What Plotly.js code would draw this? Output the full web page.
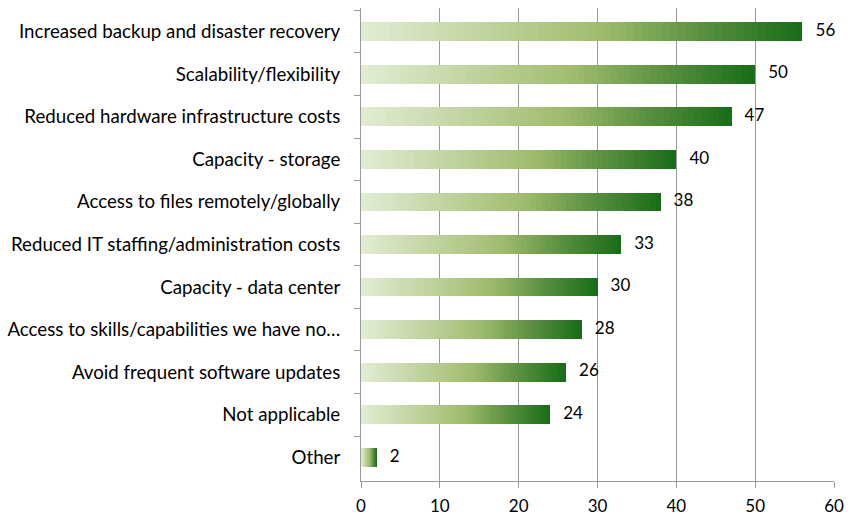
<!DOCTYPE html>
<html><head><meta charset="utf-8">
<script src="https://cdn.plot.ly/plotly-3.0.1.min.js"></script>
<style>html,body{margin:0;padding:0;background:#fff}</style>
</head><body>
<div id="chart" style="width:856px;height:516px"></div>
<script>
var categories = [
  "Increased backup and disaster recovery",
  "Scalability/flexibility",
  "Reduced hardware infrastructure costs",
  "Capacity - storage",
  "Access to files remotely/globally",
  "Reduced IT staffing/administration costs",
  "Capacity - data center",
  "Access to skills/capabilities we have no\u2026",
  "Avoid frequent software updates",
  "Not applicable",
  "Other"
];
var values = [56, 50, 47, 40, 38, 33, 30, 28, 26, 24, 2];
var xTicks = [0, 10, 20, 30, 40, 50, 60];

// gradient stops (light -> dark green)
var stops = [
  [0.00, [226, 237, 212]],
  [0.30, [190, 210, 155]],
  [0.55, [158, 187, 108]],
  [0.75, [95, 148, 68]],
  [1.00, [24, 108, 24]]
];
function gradColor(t) {
  for (var i = 1; i < stops.length; i++) {
    if (t <= stops[i][0]) {
      var a = stops[i - 1], b = stops[i];
      var f = (t - a[0]) / (b[0] - a[0]);
      var c = a[1].map(function (v, k) { return Math.round(v + (b[1][k] - v) * f); });
      return "rgb(" + c.join(",") + ")";
    }
  }
  return "rgb(" + stops[stops.length - 1][1].join(",") + ")";
}

var N = 60;
var traces = [];
for (var s = 0; s < N; s++) {
  traces.push({
    type: "bar",
    orientation: "h",
    y: categories,
    x: values.map(function (v) { return v / N; }),
    marker: { color: gradColor((s + 0.5) / N), line: { width: 0 } },
    hoverinfo: "skip",
    showlegend: false
  });
}
traces.push({
  type: "scatter",
  mode: "text",
  y: categories,
  x: values,
  text: values.map(function (v) { return "   " + v; }),
  textposition: "middle right",
  textfont: { family: "Lato, 'Open Sans', sans-serif", size: 17, color: "#000" },
  hoverinfo: "skip",
  showlegend: false,
  cliponaxis: false
});

var layout = {
  width: 856, height: 516,
  margin: { l: 361, r: 22, t: 8, b: 35 },
  paper_bgcolor: "#fff", plot_bgcolor: "#fff",
  barmode: "stack",
  bargap: 0.56,
  font: { family: "Lato, 'Open Sans', sans-serif", size: 16, color: "#000" },
  xaxis: {
    range: [0, 60],
    tickvals: xTicks,
    ticktext: xTicks.map(String),
    showgrid: true, gridcolor: "#9a9a9a", gridwidth: 1,
    zeroline: false,
    showline: true, linecolor: "#9a9a9a", linewidth: 1,
    ticks: "outside", ticklen: 6, tickcolor: "#9a9a9a",
    ticklabelstandoff: 4,
    tickfont: { size: 17 },
    fixedrange: true
  },
  yaxis: {
    autorange: "reversed",
    showgrid: false,
    showline: true, linecolor: "#9a9a9a", linewidth: 1,
    ticks: "outside", ticklen: 6, tickcolor: "#9a9a9a",
    tickson: "boundaries",
    ticklabelstandoff: 16,
    tickfont: { size: 18.7 },
    fixedrange: true
  }
};

Plotly.newPlot("chart", traces, layout, { displayModeBar: false, staticPlot: true });
</script>
</body></html>
